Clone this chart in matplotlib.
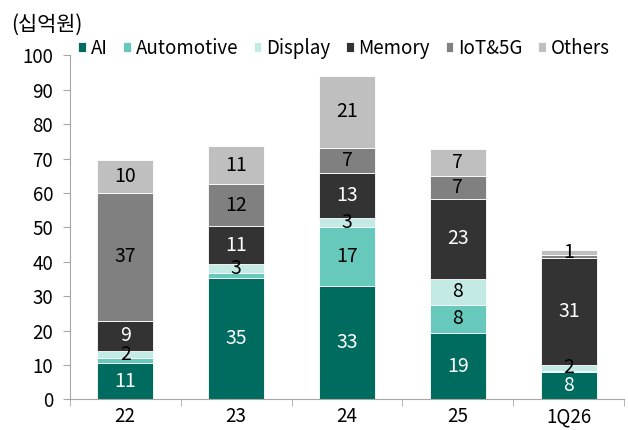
import matplotlib
matplotlib.use("Agg")
import matplotlib.pyplot as plt
import numpy as np

plt.rcParams['font.family'] = ['Noto Sans CJK KR', 'DejaVu Sans']

# 데이터 (십억원)
years = ['22', '23', '24', '25', '1Q26']
series = ['AI', 'Automotive', 'Display', 'Memory', 'IoT&5G', 'Others']
ai = [10.5, 35.4, 33.1, 19.4, 7.9]
automotive = [1.5, 1.3, 17.0, 8.2, 0.4]
display = [2.1, 2.8, 2.7, 7.5, 1.7]
memory = [8.8, 10.8, 13.1, 23.3, 31.0]
iot = [37.1, 12.2, 7.3, 6.7, 0.9]
others = [9.6, 11.2, 20.8, 7.6, 1.5]

# 막대 위에 찍히는 숫자 ('' 은 표시 안 함)
lbl_ai = ['11', '35', '33', '19', '8']
lbl_auto = ['', '', '17', '8', '']
lbl_disp = ['2', '3', '3', '8', '2']
lbl_mem = ['9', '11', '13', '23', '31']
lbl_iot = ['37', '12', '7', '7', '']
lbl_oth = ['10', '11', '21', '7', '1']

colors = ['#006B5F', '#66C9BC', '#C3EAE5', '#333333', '#808080', '#BFBFBF']
txtcol = ['white', 'black', 'black', 'white', 'black', 'black']

data = [ai, automotive, display, memory, iot, others]
labels = [lbl_ai, lbl_auto, lbl_disp, lbl_mem, lbl_iot, lbl_oth]

fig = plt.figure(figsize=(6.28, 4.30), dpi=100)
ax = fig.add_axes([0.111, 0.071, 0.883, 0.8])

x = np.arange(len(years))
bottom = np.zeros(len(years))
for vals, name, c, lab, tc in zip(data, series, colors, labels, txtcol):
    vals = np.array(vals)
    ax.bar(x, vals, 0.5, bottom=bottom, color=c, label=name,
           edgecolor='white', linewidth=0.6)
    for i in range(len(years)):
        if lab[i]:
            ax.text(x[i], bottom[i] + vals[i] / 2, lab[i], ha='center',
                    va='center', fontsize=14, color=tc)
    bottom += vals

ax.set_xlim(-0.5, len(years) - 0.5)
ax.set_ylim(0, 100)
ax.set_yticks(range(0, 101, 10))
ax.set_xticks(x)
ax.set_xticklabels(years)
ax.set_xticks(np.arange(-0.5, len(years), 1), minor=True)
ax.tick_params(axis='x', which='major', length=0, pad=5, labelsize=13.5)
ax.tick_params(axis='x', which='minor', length=5, color='#A6A6A6')
ax.tick_params(axis='y', length=5, color='#A6A6A6', labelsize=13.5, pad=7)

for s in ['top', 'right']:
    ax.spines[s].set_visible(False)
for s in ['left', 'bottom']:
    ax.spines[s].set_color('#A6A6A6')

fig.text(0.018, 0.942, '(십억원)', fontsize=15, va='center')
ax.legend(loc='lower left', bbox_to_anchor=(0.012, 0.985), ncol=6, frameon=False,
          fontsize=13.5, handlelength=0.4, handleheight=0.4, handletextpad=0.25,
          columnspacing=0.85, borderaxespad=0, borderpad=0.1)

fig.savefig('out.png', dpi=100)
